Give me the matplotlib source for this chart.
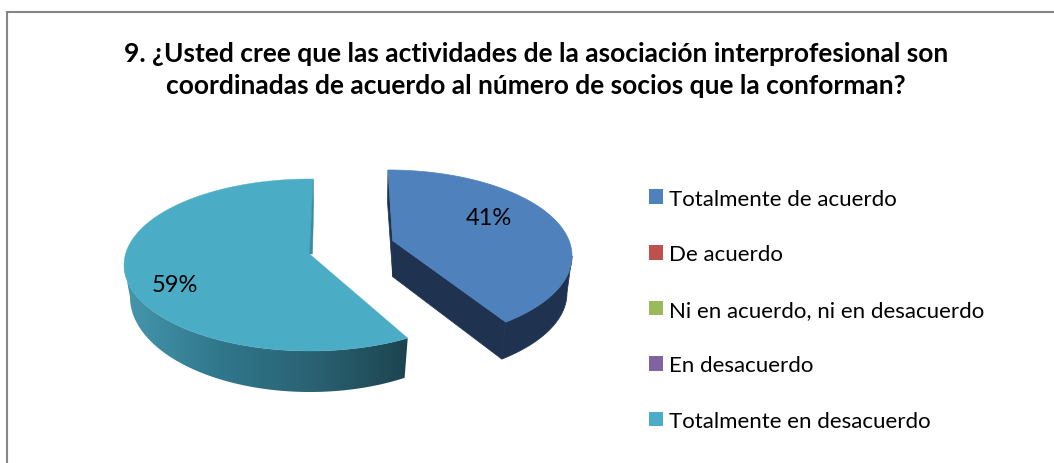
import numpy as np
import matplotlib
matplotlib.use("Agg")
import matplotlib.pyplot as plt
from matplotlib.patches import Polygon, Patch
from matplotlib.colors import LinearSegmentedColormap

title = "9. ¿Usted cree que las actividades de la asociación interprofesional son\ncoordinadas de acuerdo al número de socios que la conforman?"
categories = ["Totalmente de acuerdo", "De acuerdo", "Ni en acuerdo, ni en desacuerdo",
              "En desacuerdo", "Totalmente en desacuerdo"]
values = [41, 0, 0, 0, 59]
colors = ["#4F81BD", "#C0504D", "#9BBB59", "#8064A2", "#4BACC6"]

W, H = 1054, 464
plt.rcParams["font.family"] = ["Lato", "DejaVu Sans"]
fig = plt.figure(figsize=(W / 100, H / 100), dpi=100)
ax = fig.add_axes([0, 0, 1, 1])
ax.set_xlim(0, W)
ax.set_ylim(H, 0)
ax.axis("off")

# Chart frame: only the top and left edges fall inside the picture
ax.plot([6.5, 6.5, W], [H, 12.5, 12.5], color="#868686", lw=1.5, solid_joinstyle="miter")

ax.text(536, 70, title, ha="center", va="center", fontsize=19.0, fontweight="bold",
        color="black", linespacing=1.37)

total = sum(values)
blue_end = 360 * values[0] / total

def arc(cx, cy, a, b, t0, t1, n=200):
    t = np.radians(np.linspace(t0, t1, n))
    return np.column_stack([cx + a * np.sin(t), cy - b * np.cos(t)])

# Blue slice geometry (exploded; the perspective compresses its sweep a little)
bk = 0.95
b_top = (388, 257, 184, 86)
b_bot = (386, 294, 181, 86)
b_apex = np.array([392.7, 241.7])
t_end = blue_end * bk
wall = "#1F3250"
pts_top = arc(*b_top, 90, t_end)
pts_bot = arc(*b_bot, 90, t_end)
ax.add_patch(Polygon(np.vstack([pts_top, pts_bot[::-1]]), fc=wall, ec=wall, lw=0.5))
tip_t = arc(*b_top, t_end, t_end, 1)[0]
tip_b = arc(*b_bot, t_end, t_end, 1)[0]
ax.add_patch(Polygon([b_apex, tip_t, tip_b, b_apex + [0, 36]], fc=wall, ec=wall, lw=0.5))
ax.add_patch(Polygon([arc(*b_top, 0, 0, 1)[0], arc(*b_top, 0, 0, 1)[0] + [-0.5, 32],
                      b_apex + [0, 36], b_apex], fc=wall, ec=wall, lw=0.5))
ax.add_patch(Polygon(np.vstack([b_apex, arc(*b_top, 0, t_end)]), fc=colors[0], ec=colors[0], lw=0.5))

# Cyan slice geometry (perspective carries its far edge about a degree past the top)
c_top = (310, 266, 186, 86)
c_bot = (310, 298, 180, 95)
c_apex = np.array([309.5, 255])
t0 = blue_end + 0.7
t1 = 361
pts_top = arc(*c_top, t0, 270)
pts_bot = arc(*c_bot, t0, 270)
poly = Polygon(np.vstack([pts_top, pts_bot[::-1]]), fc="none", ec="none")
ax.add_patch(poly)
cmap = LinearSegmentedColormap.from_list("w", ["#4597AD", "#31778C", "#2A6273", "#1D444F"])
im = ax.imshow(np.linspace(0, 1, 256)[None, :], extent=(124, 408, 393, 266), cmap=cmap,
               aspect="auto", zorder=1.5)
im.set_clip_path(poly)
ax.set_xlim(0, W)
ax.set_ylim(H, 0)
top_pt = arc(*c_top, t1, t1, 1)[0]
ax.add_patch(Polygon([top_pt, top_pt + [0.5, 22], c_apex + [3, 0], c_apex], fc="#3A8CA3", ec="#3A8CA3",
                     lw=0.3, zorder=2.1))
ax.add_patch(Polygon(np.vstack([c_apex, arc(*c_top, t0, t1)]), fc=colors[4], ec=colors[4], lw=0.3, zorder=2))

ax.text(489, 219, f"{values[0]}%", ha="center", va="center", fontsize=17, zorder=3)
ax.text(175, 286, f"{values[4]}%", ha="center", va="center", fontsize=17, zorder=3)

handles = [Patch(fc=c, ec="none") for c in colors]
fs = 16.0
sq = 14 * 72 / 100 / fs
ax.legend(handles, categories, loc="upper left", bbox_to_anchor=(649 / W, 1 - 189.5 / H),
          frameon=False, fontsize=fs, handlelength=sq, handleheight=sq, handletextpad=0.28,
          labelspacing=1.60, borderpad=0, borderaxespad=0)
fig.savefig("out.png", dpi=100)
